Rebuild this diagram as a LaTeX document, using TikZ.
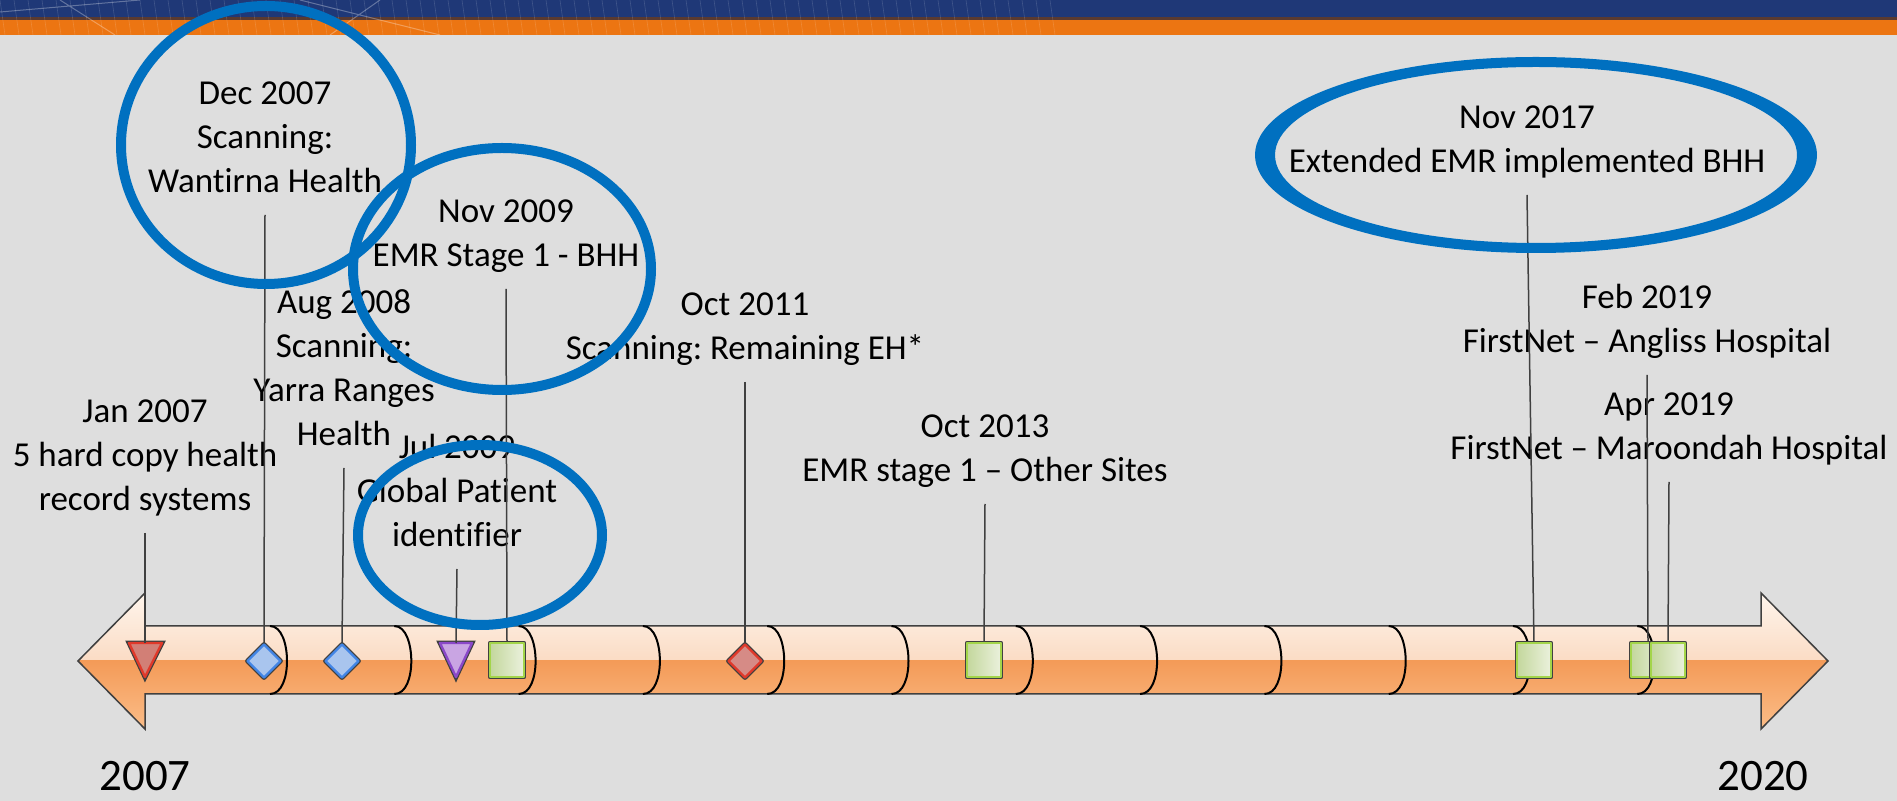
\documentclass[tikz,border=0pt]{standalone}
\usepackage{fontspec}
\setmainfont{Carlito}[Ligatures=CommonOff]
\frenchspacing
\usetikzlibrary{shapes.geometric}
\definecolor{bgray}{HTML}{DEDEDE}
\definecolor{navy}{HTML}{1F3877}
\definecolor{bandline}{HTML}{5A3A30}
\definecolor{bandorange}{HTML}{EC7512}
\definecolor{arwA}{HTML}{FFF6EE}
\definecolor{arwB}{HTML}{F6C29C}
\definecolor{arwC}{HTML}{F49B58}
\definecolor{arwD}{HTML}{FBBE8A}
\definecolor{mline}{HTML}{404040}
\definecolor{ringblue}{HTML}{0070C0}
\definecolor{trired}{HTML}{D27F76}
\definecolor{rededge}{HTML}{E0392A}
\definecolor{dmdblue}{HTML}{A9C5EE}
\definecolor{blueedge}{HTML}{4285E6}
\definecolor{tripurple}{HTML}{C9A5E3}
\definecolor{purpleedge}{HTML}{8A48C8}
\definecolor{dmdred}{HTML}{D68B86}
\definecolor{sqA}{HTML}{C3D79C}
\definecolor{sqB}{HTML}{EBF1DD}
\definecolor{sqedge}{HTML}{A3D54A}
\tikzset{
  lbl/.style={anchor=south, align=center, font=\fontsize{17.5}{22}\selectfont,
    text depth=0pt, inner xsep=0pt, inner ysep=11pt},
  yearlbl/.style={anchor=base, font=\fontsize{22.5}{27}\selectfont, inner sep=0pt},
  stem/.style={draw=mline, line width=0.75pt},
  seg/.style={draw=black, line width=1pt},
  mk/.style={preaction={draw=mline, line width=2.4pt}, line width=1.2pt, line join=round},
  dmd/.style={mk, diamond, minimum size=17pt, inner sep=0pt},
  sqr/.style={mk, rectangle, minimum size=17pt, inner sep=0pt, draw=sqedge,
    left color=sqA, right color=sqB},
  ring/.style={draw=ringblue, line width=5pt}
}
\begin{document}
\begin{tikzpicture}[x=0.5pt, y=-0.5pt]
\useasboundingbox (0,0) rectangle (1897,801);
\fill[bgray] (0,0) rectangle (1897,801);
% banner
\fill[navy] (0,0) rectangle (1897,18);
\fill[bandline] (0,17) rectangle (1897,20);
\fill[bandorange] (0,20) rectangle (1897,35);
\begin{scope}
  \clip (0,0) rectangle (1060,35);
  \foreach \i in {0,...,75}
    \draw[white, opacity=0.15, line width=0.3pt] ({\i*14},0) -- ({\i*14+5},35);
  \draw[white, opacity=0.3, line width=0.5pt] (60,0) -- (115,35) (0,12) -- (140,0)
    (300,0) -- (440,35) (380,0) -- (330,35);
\end{scope}
% timeline arrow
\draw[draw=mline, line width=0.75pt, path picture={
    \fill[top color=arwA, bottom color=arwB] (0,590) rectangle (1897,661);
    \fill[top color=arwC, bottom color=arwD] (0,661) rectangle (1897,732);}]
  (78,661) -- (145,593) -- (145,626) -- (1761,626) -- (1761,593) -- (1828,661)
  -- (1761,729) -- (1761,694) -- (145,694) -- (145,729) -- cycle;
\foreach \i in {0,...,11} {
  \pgfmathsetmacro\a{270+124.3*\i}
  \draw[seg] (\a,626) .. controls ({\a+12},626) and ({\a+17},645) .. ({\a+17},661)
    .. controls ({\a+17},677) and ({\a+12},694) .. (\a,694);
}
% markers
\filldraw[mk, fill=trired, draw=rededge] (129,643) -- (162,643) -- (145,677) -- cycle;
\coordinate (t1) at (145,643);
\node[dmd, fill=dmdblue, draw=blueedge] (d1) at (264,661) {};
\node[dmd, fill=dmdblue, draw=blueedge] (d2) at (342,661) {};
\filldraw[mk, fill=tripurple, draw=purpleedge] (440,643) -- (472,643) -- (456,677) -- cycle;
\coordinate (t2) at (456,643);
\node[sqr] (s1) at (507,660) {};
\node[dmd, fill=dmdred, draw=rededge] (d3) at (745,661) {};
\node[sqr] (s2) at (984,660) {};
\node[sqr] (s3) at (1534,660) {};
\node[sqr] (s4) at (1648,660) {};
\node[sqr] (s5) at (1668,660) {};
% labels
\node[lbl] (l1) at (145,533) {Jan 2007\\5 hard copy health\\record systems};
\node[lbl] (l2) at (265,215) {Dec 2007\\Scanning:\\Wantirna Health};
\node[lbl] (l3) at (344,468) {Aug 2008\\Scanning:\\Yarra Ranges\\Health};
\node[lbl] (l4) at (457,569) {Jul 2009\\Global Patient\\identifier};
\node[lbl] (l5) at (506,289) {Nov 2009\\EMR Stage 1 - BHH};
\node[lbl] (l6) at (745,382) {Oct 2011\\Scanning: Remaining EH*};
\node[lbl] (l7) at (985,504) {Oct 2013\\EMR stage 1 – Other Sites};
\node[lbl] (l8) at (1527,195) {Nov 2017\\Extended EMR implemented BHH};
\node[lbl] (l9) at (1647,375) {Feb 2019\\FirstNet – Angliss Hospital};
\node[lbl] (l10) at (1669,482) {Apr 2019\\FirstNet – Maroondah Hospital};
\draw[stem] (l1.south) -- (t1);
\draw[stem] (l2.south) -- (d1.north);
\draw[stem] (l3.south) -- (d2.north);
\draw[stem] (l4.south) -- (t2);
\draw[stem] (l5.south) -- (s1.north);
\draw[stem] (l6.south) -- (d3.north);
\draw[stem] (l7.south) -- (s2.north);
\draw[stem] (l8.south) -- (s3.north);
\draw[stem] (l9.south) -- (s4.north);
\draw[stem] (l10.south) -- (s5.north);
\node[yearlbl] (y1) at (145,791) {2007};
\node[yearlbl] (y2) at (1763,791) {2020};
% highlight rings
\draw[ring] (266,145) ellipse [x radius=145, y radius=139];
\draw[ring] (502,269) ellipse [x radius=149, y radius=121];
\draw[ring] (480,535) ellipse [x radius=122, y radius=90];
\fill[ringblue, even odd rule] (1536,155) ellipse [x radius=281, y radius=98]
  (1536,155) ellipse [x radius=261, y radius=88];
\end{tikzpicture}
\end{document}
